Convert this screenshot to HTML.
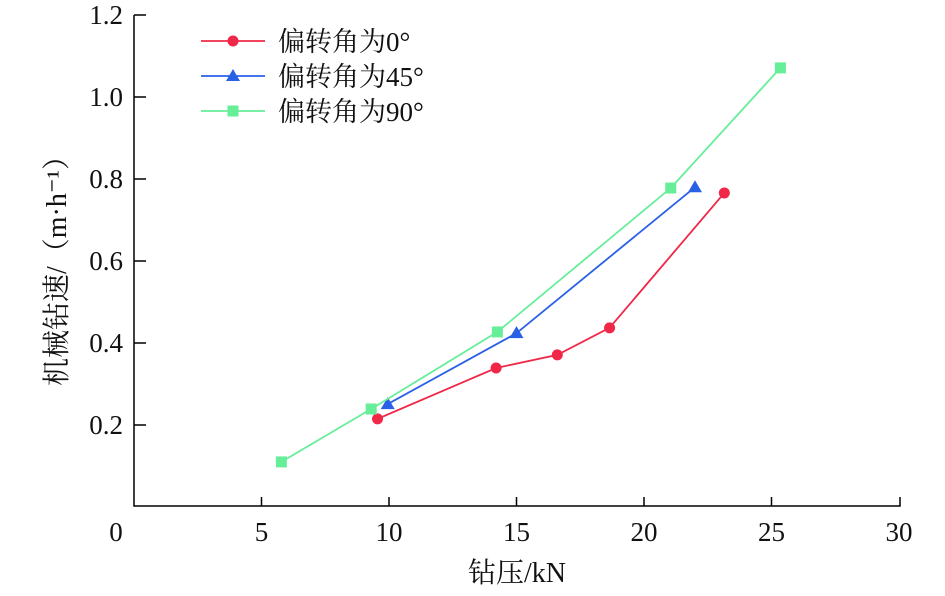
<!DOCTYPE html>
<html><head><meta charset="utf-8"><style>
body{margin:0;background:#fff}
text{font-family:"Liberation Serif","Noto Serif CJK SC",serif;fill:#111}
</style></head><body>
<svg id="c" width="945" height="591"></svg>
<script>
const xTicks=[0,5,10,15,20,25,30];
const yTicks=[0.2,0.4,0.6,0.8,1.0,1.2];
const yTickLabels=["0.2","0.4","0.6","0.8","1.0","1.2"];
const names=["偏转角为0°","偏转角为45°","偏转角为90°"];
const s0x=[9.55,14.2,16.6,18.65,23.15];
const s0y=[0.215,0.339,0.371,0.437,0.766];
const s1x=[9.95,15.0,22.0];
const s1y=[0.251,0.424,0.78];
const s2x=[5.78,9.3,14.25,21.05,25.35];
const s2y=[0.11,0.239,0.427,0.778,1.071];
const colors=["#f02848","#2a60e6","#66ee99"];
const ns="http://www.w3.org/2000/svg";
const svg=document.getElementById('c');
const X=v=>134+v*25.5, Y=v=>507-v*410;
function mk(t,a,p){const e=document.createElementNS(ns,t);for(const k in a)e.setAttribute(k,a[k]);(p||svg).appendChild(e);return e;}
let ax=mk('path',{d:`M134 15V506H900V497`,fill:'none',stroke:'#000','stroke-width':1.5});


xTicks.forEach(v=>{
 if(v>0&&v<30){const l=mk('line',{x1:X(v),x2:X(v),y1:506,y2:497,stroke:'#000','stroke-width':1.5});
 
 }
 const t=mk('text',{x:X(v)-(v==0?18:0),y:541,'text-anchor':'middle','font-size':27});t.textContent=v;
 
 
});
yTicks.forEach((v,i)=>{
 const l=mk('line',{x1:134,x2:146,y1:Y(v),y2:Y(v),stroke:'#000','stroke-width':1.5});
 
 
 const t=mk('text',{x:123,y:Y(v)+9,'text-anchor':'end','font-size':27});t.textContent=yTickLabels[i];
 
 
});
let xt=mk('text',{x:517,y:582,'text-anchor':'middle','font-size':28});xt.textContent='钻压/kN';


let yt=mk('text',{x:0,y:0,'text-anchor':'middle','font-size':28,transform:'translate(66,264) rotate(-90)'});yt.textContent='机械钻速/（m·h⁻¹）';


function marker(i,x,y,g){
 const c=colors[i];let m;
 if(i==0)m=mk('circle',{cx:x,cy:y,r:5.5,fill:c},g);
 else if(i==1)m=mk('path',{d:`M${x} ${y-7}L${x+7} ${y+5}L${x-7} ${y+5}Z`,fill:c},g);
 else m=mk('rect',{x:x-5.5,y:y-5.5,width:11,height:11,fill:c},g);
 
 
}
[[s0x,s0y],[s1x,s1y],[s2x,s2y]].forEach((s,i)=>{
 const g=mk('g',{});
 
 
 const pts=s[0].map((x,j)=>X(x)+','+Y(s[1][j])).join(' ');
 mk('polyline',{points:pts,fill:'none',stroke:colors[i],'stroke-width':1.8},g);
 s[0].forEach((x,j)=>marker(i,X(x),Y(s[1][j]),g));
 const ly=41+i*35;
 const lg=mk('g',{});
 
 
 mk('line',{x1:201,x2:265,y1:ly,y2:ly,stroke:colors[i],'stroke-width':1.8},lg);
 marker(i,233,ly,lg);
 const t=mk('text',{x:278,y:ly+10,'font-size':27},lg);t.textContent=names[i];
});
</script>
</body></html>
